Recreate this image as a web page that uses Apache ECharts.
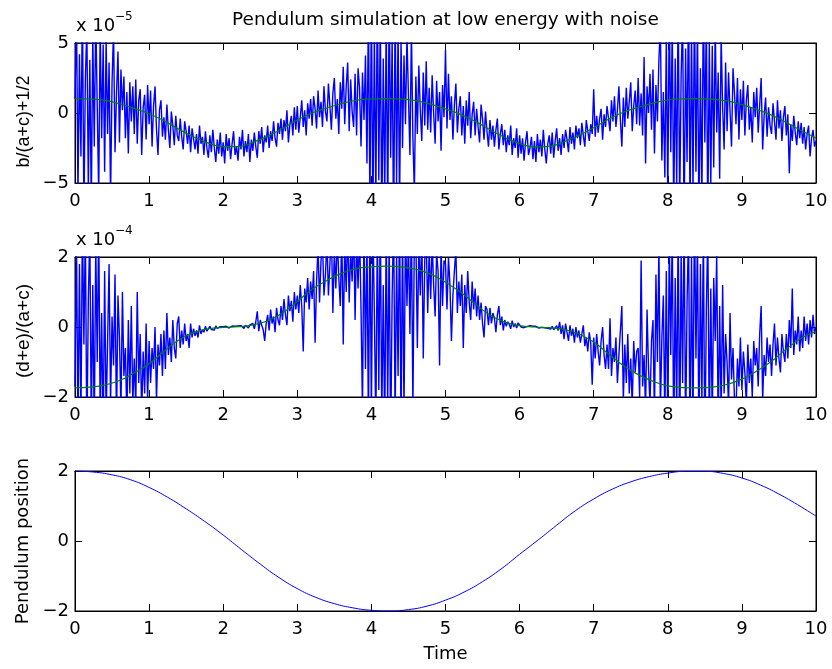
<!DOCTYPE html>
<html>
<head>
<meta charset="utf-8">
<script src="https://cdn.jsdelivr.net/npm/echarts@6/dist/echarts.min.js"></script>
<style>
html,body{margin:0;padding:0;background:#fff;}
#chart{width:832px;height:669px;}
</style>
</head>
<body>
<div id="chart"></div>
<script>
// ---- data ----
const titleText = 'Pendulum simulation at low energy with noise';
const xTicks = [0,1,2,3,4,5,6,7,8,9,10];
const topTicks = [-5, 0, 5];      // x 10^-5
const midTicks = [-2, 0, 2];      // x 10^-4
const botTicks = [-2, 0, 2];

// noisy samples every 0.02 time units (t = 0 ... 10)
const noisyStep = 0.02;
const topNoisy = [
 1.0, 7.5, -6.0, 4.2, -3.1, 8.0, -7.2, 2.5, 6.1, -5.5,
 3.8, -6.8, 5.6, -2.4, 7.1, 0.5, -5.9, 6.4, -1.8, 4.9,
 -4.2, 5.3, -1.5, 3.6, -6.1, 2.2, 6.0, -2.8, 1.4, 4.4,
 -2.1, 3.1, 0.2, 2.6, -1.8, 1.5, -2.9, 2.2, -0.6, 1.9,
 -1.5, 2.4, -2.2, 0.9, 1.7, -3.0, 0.4, 1.3, -1.9, 2.0,
 -0.8, 1.6, -2.4, 0.5, 1.9, -1.2, -3.0, 0.2, 0.9, -1.7,
 -0.3, -1.9, 0.6, -1.2, -2.5, 0.1, -0.9, -2.3, -0.2, -1.6,
 -2.0, -0.4, -1.7, -2.6, -0.6, -1.3, -2.2, -0.9, -2.8, -1.1,
 -1.0, -2.6, -1.5, -2.9, -0.9, -2.2, -1.7, -3.0, -1.3, -2.5,
 -3.2, -1.6, -2.8, -1.2, -2.5, -3.5, -1.9, -2.9, -1.4, -3.1,
 -2.1, -3.6, -1.5, -2.7, -1.8, -3.3, -2.2, -1.3, -3.0, -2.4,
 -3.4, -1.7, -2.6, -1.2, -3.1, -2.0, -2.8, -1.5, -3.5, -1.9,
 -2.7, -1.4, -2.4, -3.2, -1.3, -2.2, -1.0, -2.8, -1.6, -2.1,
 -0.9, -2.5, -1.3, -2.0, -0.6, -1.8, -2.4, -0.7, -1.5, -0.4,
 -1.9, -0.5, -1.3, 0.2, -2.1, -0.8, -0.2, -1.6, 0.4, -1.2,
 0.5, -1.4, -0.3, 0.9, -1.0, 0.2, -1.6, 0.7, -0.4, 1.0,
 -0.9, 1.2, 0.3, -1.1, 1.6, -0.3, 0.8, -1.0, 1.9, 0.1,
 -0.6, 2.1, 0.5, -1.2, 1.4, 2.5, -0.4, 1.0, -1.5, 2.2,
 0.3, 3.3, -0.8, 1.9, 3.6, -1.3, 2.4, 0.1, -1.0, 2.8,
 -1.6, 3.2, 1.8, -2.4, 2.9, -0.5, 4.1, -3.6, 7.5, -6.8,
 8.2, -7.9, 5.8, -6.5, 9.0, -4.8, 7.3, -8.4, 3.9, -6.2,
 6.9, -7.5, 8.6, -3.2, 5.4, -9.1, 7.8, -5.0, 6.2, -7.0,
 5.3, -2.5, 4.1, -0.8, 5.6, 1.2, -3.0, 6.0, -1.8, -5.6,
 2.6, -1.5, 3.4, 0.2, -2.0, 2.9, -0.9, 3.7, -1.2, 1.8,
 -1.4, 2.7, 0.0, -2.2, 2.3, -0.6, 1.5, -2.7, 2.0, -0.3,
 4.5, -1.1, 2.8, -0.5, 1.2, -1.9, 0.6, 2.1, -1.4, 0.3,
 1.2, -1.6, 0.5, -2.2, 0.9, -0.9, 1.5, -1.8, -0.1, 0.8,
 -1.6, 0.3, -1.0, -2.1, 0.6, -0.4, -1.9, 0.1, -1.3, -2.4,
 -0.5, -1.9, -0.9, -2.4, -1.2, -0.4, -2.6, -1.5, -0.8, -2.3,
 -1.2, -2.8, -1.6, -2.3, -0.9, -3.0, -1.8, -2.5, -1.1, -3.2,
 -1.6, -2.9, -1.8, -3.4, -2.1, -1.3, -3.0, -2.5, -1.7, -3.3,
 -2.0, -3.5, -1.5, -2.8, -1.9, -3.1, -1.2, -2.6, -3.6, -2.2,
 -1.6, -2.9, -1.4, -3.2, -2.0, -1.1, -2.7, -1.8, -3.0, -1.5,
 -2.5, -1.2, -1.9, -2.8, -1.0, -2.2, -1.4, -2.6, -0.9, -1.8,
 -1.1, -2.3, -0.7, -1.6, -2.4, -0.5, -1.3, -2.0, -0.8, -1.5,
 1.7, -1.7, -0.2, -1.4, -0.4, 0.3, -1.9, -0.1, -1.0, 0.5,
 0.4, -1.3, 0.9, -0.6, 1.2, -1.0, 0.2, 1.9, -0.5, -2.4,
 1.1, -1.0, 1.8, -0.4, 0.8, 2.2, -1.3, 0.5, 1.6, -0.8,
 2.5, -0.9, 1.4, -1.6, 4.0, -3.6, 1.9, 0.0, 2.8, -1.2,
 3.1, -2.9, 2.0, -0.6, 3.8, 6.2, -3.4, 1.5, -4.6, 5.4,
 -6.1, 7.8, -2.8, 6.5, -7.4, 3.9, -5.3, 8.3, -6.9, 2.7,
 7.1, -8.6, 4.6, -3.5, 9.2, -7.2, 6.0, -5.6, 8.1, -4.2,
 6.6, -7.7, 3.2, -6.3, 8.5, -2.1, 7.0, -8.0, 5.1, -5.2,
 4.8, -3.9, 6.3, -1.4, 2.9, -4.7, 5.5, 0.4, -2.6, 3.6,
 -1.3, 2.9, 0.1, -2.4, 3.2, 1.4, -0.8, 2.5, -1.9, 1.7,
 -0.5, 2.3, -1.6, 0.9, 2.0, -1.2, 0.4, -2.1, 1.5, -0.3,
 1.8, -1.4, 0.6, 2.5, -2.6, -0.2, 1.1, -1.7, 0.4, -0.9,
 -1.5, 0.7, -0.6, -1.9, 0.9, -1.1, 0.2, -2.0, -0.3, 0.5,
 -1.6, -0.1, -4.3, -0.8, -2.0, -0.2, -1.4, -2.3, -0.6, -1.8,
 -0.7, -2.2, -1.0, -2.6, -1.5, -0.9, -3.1, -1.8, -1.2, -2.4,
 -2.0
];
const midNoisy = [
 -1.7, 2.6, -3.0, 1.8, -2.8, 3.2, -0.5, 2.9, -3.4, 0.8,
 2.7, -2.9, 1.2, -3.1, 2.4, -1.0, 3.0, -2.6, 0.4, -3.3,
 1.6, -2.6, -0.4, 1.8, -2.2, 0.3, -1.1, 1.5, -2.8, 0.9,
 -0.3, -2.4, 1.0, -1.4, -0.6, -2.7, 0.2, -1.9, 0.6, -2.2,
 -0.9, -2.3, 1.0, -1.6, -0.2, -2.5, -0.7, -1.9, 0.1, -2.1,
 -0.4, -1.6, -0.6, -1.2, 0.0, -2.1, -0.5, -1.1, -0.2, -1.4,
 -0.1, -1.2, 0.4, -0.8, -0.3, -1.0, 0.2, -0.6, -0.9, 0.1,
 0.3, -0.6, -0.1, -0.5, 0.1, -0.4, -0.2, -0.6, 0.1, -0.3,
 -0.05, -0.25, -0.1, -0.3, 0.05, -0.2, -0.08, -0.15, 0.02, -0.12,
 -0.1, 0.02, -0.07, -0.02, -0.09, 0.03, -0.04, -0.06, 0.01, -0.03,
 0.01, -0.02, 0.02, 0.0, -0.03, 0.01, 0.03, -0.01, 0.02, -0.02,
 0.03, -0.02, 0.04, 0.0, -0.04, 0.05, 0.01, -0.03, 0.06, 0.02,
 0.1, -0.05, 0.15, 0.45, -0.12, 0.2, 0.05, -0.08, -0.4, 0.1,
 0.35, -0.1, 0.5, 0.1, 0.3, -0.15, 0.55, 0.2, 0.05, 0.6,
 0.2, 0.8, 0.35, 0.05, 0.9, 0.45, 0.75, 0.15, 1.0, 0.5,
 0.9, 0.4, 1.2, 0.6, -0.7, 1.1, 0.7, 1.4, 0.5, 1.3,
 0.8, 1.6, -0.45, 1.3, 2.3, 0.7, 1.9, 2.4, 0.9, 1.5,
 2.5, 0.9, 1.8, 2.8, 0.4, 2.2, 1.1, 2.6, 1.4, 0.6,
 2.7, -0.5, 2.4, 1.0, 2.9, 0.7, 2.2, 1.3, 3.0, 0.2,
 2.6, 1.1, 2.8, 0.5, -2.4, 3.0, -1.2, 2.7, -2.9, 3.3,
 -2.6, 3.1, 0.4, -3.0, 2.9, -1.8, 3.4, -2.7, 1.2, -3.2,
 3.0, -2.3, 2.6, -3.5, 0.9, 3.2, -2.8, 2.1, -1.4, 3.4,
 -3.1, 2.8, -2.5, 3.0, 0.6, 2.5, -0.2, 3.1, -2.4, 2.7,
 2.6, -0.6, 2.3, 0.9, 2.8, -0.9, 1.9, 2.5, 0.4, 2.2,
 0.8, 2.4, 1.2, 0.3, 2.1, 1.6, -1.1, 2.3, 0.6, 1.9,
 1.8, 0.5, 2.0, 1.2, -0.4, 0.9, 1.6, 2.2, 0.4, 1.3,
 0.6, 1.5, -0.6, 1.2, 0.4, 1.6, 0.7, 0.2, 1.3, 0.5,
 1.1, 0.3, 0.9, 0.2, 0.7, 0.1, -0.3, 0.6, 0.5, 0.05,
 0.55, 0.1, 0.4, 0.25, -0.15, 0.35, 0.6, 0.05, 0.3, -0.1,
 0.2, 0.02, 0.15, 0.08, -0.05, 0.18, 0.0, 0.1, -0.03, 0.12,
 0.06, 0.0, 0.05, -0.02, 0.03, 0.01, -0.03, 0.04, 0.0, 0.02,
 -0.02, 0.02, 0.0, -0.03, 0.01, -0.01, 0.03, -0.02, 0.01, -0.04,
 0.0, -0.06, 0.02, -0.08, -0.03, 0.04, -0.1, 0.15, -0.2, 0.05,
 -0.35, 0.1, -0.15, -0.4, 0.05, -0.25, -0.05, -0.45, 0.0, -0.3,
 -0.1, -0.45, -0.2, 0.05, -0.55, -0.3, -0.7, -0.15, -0.45, -1.65,
 -0.3, -0.9, -0.2, -0.7, -1.1, -0.4, 0.0, -0.8, -1.2, -0.5,
 -1.2, 0.25, -1.4, -0.6, -1.0, -0.3, -1.6, -0.8, -0.1, 0.6,
 -2.1, -0.5, -1.6, -0.2, -1.9, -0.9, -2.3, -0.4, -1.3, -0.7,
 -0.6, -2.0, 1.9, -1.7, -0.8, -2.4, 0.5, -1.2, -2.2, -0.4,
 0.2, -2.6, 1.5, -1.0, 2.3, -2.4, -0.3, 0.9, -2.8, 1.6,
 -3.0, 2.5, -0.8, 2.9, -3.5, 1.4, -2.6, 3.1, -3.8, 2.2,
 -1.6, 3.3, -3.2, 0.7, 2.8, -3.6, 2.0, -2.9, 3.5, -0.9,
 2.6, -3.4, 1.8, -2.2, 3.0, -3.9, 0.5, 2.7, -3.1, 1.1,
 -2.8, 1.4, -0.4, 2.1, -3.0, 0.6, -2.5, 1.2, -1.9, -0.2,
 -1.0, -2.3, 0.4, -1.5, -0.6, -2.1, -2.4, -0.9, -1.7, -0.3,
 -1.8, -0.7, -1.3, -2.2, -0.5, -1.6, -0.9, -2.0, -0.4, -1.1,
 -0.6, -1.7, -0.2, 0.6, -2.1, -0.8, -1.4, -0.3, -1.0, -0.5,
 -1.4, -0.5, 0.1, -1.1, -0.3, -0.9, -1.3, -0.2, -0.7, -1.0,
 -0.2, -0.9, 0.2, -0.6, 1.1, -0.8, -0.1, -0.5, 0.3, -0.7,
 -0.1, -0.6, 0.3, -0.4, 0.1, -0.5, 0.2, -0.3, 0.35, -0.2,
 0.0
];

// smooth (noise-free) curves every 0.2 time units
const smoothStep = 0.2;
const topSmooth = [1.03,1.0,0.9,0.66,0.33,-0.05,-0.55,-1.15,-1.7,-2.15,-2.4,-2.4,-2.1,-1.65,-1.1,-0.5,0.0,0.36,0.68,0.91,1.0,1.03,1.0,0.88,0.63,0.29,-0.1,-0.6,-1.2,-1.75,-2.18,-2.42,-2.38,-2.05,-1.6,-1.05,-0.45,0.05,0.4,0.7,0.93,1.01,1.03,0.99,0.86,0.6,0.25,-0.15,-0.68,-1.25,-1.78];
const midSmooth = [-1.74,-1.72,-1.66,-1.53,-1.31,-1.05,-0.7,-0.37,-0.16,-0.05,-0.01,0.01,0.06,0.18,0.4,0.73,1.08,1.33,1.54,1.67,1.72,1.74,1.72,1.65,1.51,1.28,1.0,0.66,0.34,0.14,0.04,0.0,-0.02,-0.07,-0.2,-0.43,-0.77,-1.1,-1.36,-1.55,-1.68,-1.73,-1.74,-1.72,-1.64,-1.49,-1.26,-0.98,-0.63,-0.32,-0.13];

// pendulum position every 0.25 time units
const posStep = 0.25;
const position = [2.0,1.97,1.89,1.75,1.53,1.25,0.92,0.56,0.17,-0.25,-0.66,-1.04,-1.36,-1.61,-1.79,-1.91,-1.98,-2.0,-1.96,-1.86,-1.69,-1.46,-1.16,-0.8,-0.38,0.03,0.45,0.86,1.2,1.48,1.69,1.84,1.94,1.99,1.99,1.93,1.8,1.6,1.34,1.04,0.71];

// ---- build ----
function pairs(step, arr){ return arr.map((v,i)=>[+(i*step).toFixed(4), v]); }
const minus = v => (v < 0 ? '\u2212' + Math.abs(v) : String(v));

const HFONT = 'DejaVu Sans';
const grids = [
  {left:75, top:43, width:741, height:140},
  {left:75, top:257, width:741, height:140},
  {left:75, top:471, width:741, height:140}
];
const yRanges = [topTicks, midTicks, botTicks];

const xAxes = [], yAxes = [];
grids.forEach((g, gi) => {
  const baseX = {
    gridIndex: gi, type:'value', min: xTicks[0], max: xTicks[xTicks.length-1], interval: 1,
    axisLine:{show:true, onZero:false, lineStyle:{color:'#000', width:1}},
    axisTick:{show:true, inside:true, length:7, lineStyle:{color:'#000', width:1}},
    splitLine:{show:false}
  };
  xAxes.push(Object.assign({}, baseX, {position:'bottom',
    axisLabel:{show:true, color:'#000', fontFamily:HFONT, fontSize:18, margin:9, formatter: minus}}));
  xAxes.push(Object.assign({}, baseX, {position:'top', axisLabel:{show:false}}));
  const t = yRanges[gi];
  const baseY = {
    gridIndex: gi, type:'value', min: t[0], max: t[t.length-1], interval: t[1]-t[0],
    axisLine:{show:true, onZero:false, lineStyle:{color:'#000', width:1}},
    axisTick:{show:true, inside:true, length:7, lineStyle:{color:'#000', width:1}},
    splitLine:{show:false}
  };
  yAxes.push(Object.assign({}, baseY, {position:'left',
    axisLabel:{show:true, color:'#000', fontFamily:HFONT, fontSize:18, margin:6, formatter: minus}}));
  yAxes.push(Object.assign({}, baseY, {position:'right', axisLabel:{show:false}}));
});

const lineBase = {type:'line', showSymbol:false, symbol:'none', animation:false, clip:true, silent:true};
const series = [
  Object.assign({}, lineBase, {xAxisIndex:0, yAxisIndex:0, data: pairs(noisyStep, topNoisy), lineStyle:{color:'#0000ff', width:1.4}}),
  Object.assign({}, lineBase, {xAxisIndex:0, yAxisIndex:0, data: pairs(smoothStep, topSmooth), smooth:true, lineStyle:{color:'#008000', width:1.2}}),
  Object.assign({}, lineBase, {xAxisIndex:2, yAxisIndex:2, data: pairs(noisyStep, midNoisy), lineStyle:{color:'#0000ff', width:1.4}}),
  Object.assign({}, lineBase, {xAxisIndex:2, yAxisIndex:2, data: pairs(smoothStep, midSmooth), smooth:true, lineStyle:{color:'#008000', width:1.2}}),
  Object.assign({}, lineBase, {xAxisIndex:4, yAxisIndex:4, data: pairs(posStep, position), smooth:true, lineStyle:{color:'#0000ff', width:1}})
];

const txt = (x, y, text, opts) => ({type:'text', x, y, silent:true, rotation: (opts && opts.rot) || 0,
  style: {text, fill:'#000', font: ((opts && opts.size) || 18) + 'px "' + ((opts && opts.family) || HFONT) + '"',
          align: (opts && opts.align) || 'left', verticalAlign:'middle'}});

const graphic = [
  txt(445.5, 20, titleText, {align:'center', size:18.5}),
  txt(76, 26.5, 'x 10'),
  txt(115, 16.5, '\u22125', {size:12}),
  txt(76, 240, 'x 10'),
  txt(115, 231, '\u22124', {size:12}),
  txt(24, 121.5, 'b/(a+c)+1/2', {align:'center', rot:Math.PI/2, family:'Liberation Sans', size:18}),
  txt(24, 331, '(d+e)/(a+c)', {align:'center', rot:Math.PI/2, family:'Liberation Sans', size:19}),
  txt(23, 541, 'Pendulum position', {align:'center', rot:Math.PI/2, family:HFONT, size:18}),
  txt(445.5, 654, 'Time', {align:'center'})
];

const chart = echarts.init(document.getElementById('chart'));
chart.setOption({
  backgroundColor:'#fff',
  animation:false,
  grid: grids.map(g => Object.assign({show:true, borderColor:'#000', borderWidth:1, backgroundColor:'#fff'}, g)),
  xAxis: xAxes,
  yAxis: yAxes,
  series,
  graphic
});
</script>
</body>
</html>
